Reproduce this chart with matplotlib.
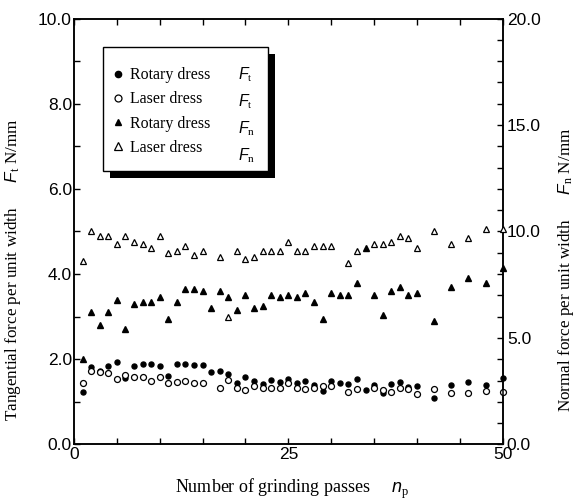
import matplotlib
matplotlib.use("Agg")
import matplotlib.pyplot as plt
from matplotlib.lines import Line2D
from matplotlib.patches import Rectangle
from matplotlib.ticker import MultipleLocator, FormatStrFormatter
from matplotlib.transforms import IdentityTransform

plt.rcParams['font.family'] = ['Liberation Sans', 'DejaVu Sans']
plt.rcParams['mathtext.fontset'] = 'custom'
plt.rcParams['mathtext.it'] = 'Liberation Sans:italic'
plt.rcParams['mathtext.rm'] = 'Liberation Serif'

# tangential force (N/mm) - left axis
passes_ft_rot = list(range(1, 41)) + [42, 44, 46, 48, 50]
ft_rotary = [1.24, 1.81, 1.72, 1.84, 1.94, 1.57, 1.84, 1.88, 1.88, 1.84,
             1.61, 1.88, 1.88, 1.87, 1.86, 1.71, 1.73, 1.66, 1.45, 1.59,
             1.50, 1.42, 1.52, 1.47, 1.53, 1.45, 1.48, 1.40, 1.26, 1.50,
             1.44, 1.42, 1.54, 1.28, 1.40, 1.20, 1.42, 1.46, 1.35, 1.36,
             1.08, 1.40, 1.47, 1.40, 1.55]

passes_ft_las = [1, 2, 3, 4, 5, 6, 7, 8, 9, 10, 11, 12, 13, 14, 15, 17, 18, 19, 20,
                 21, 22, 23, 24, 25, 26, 27, 28, 29, 30, 32, 33, 35, 36, 37, 38, 39, 40,
                 42, 44, 46, 48, 50]
ft_laser = [1.44, 1.73, 1.69, 1.67, 1.54, 1.63, 1.59, 1.59, 1.49, 1.59,
            1.44, 1.47, 1.49, 1.45, 1.44, 1.33, 1.51, 1.33, 1.28,
            1.38, 1.33, 1.33, 1.33, 1.43, 1.33, 1.30, 1.33, 1.36, 1.36, 1.22, 1.30,
            1.32, 1.28, 1.22, 1.33, 1.30, 1.18,
            1.30, 1.20, 1.20, 1.26, 1.22]

# normal force (N/mm) - right axis
passes_fn_rot = list(range(1, 41)) + [42, 44, 46, 48, 50]
fn_rotary = [4.0, 6.2, 5.6, 6.2, 6.8, 5.4, 6.6, 6.7, 6.7, 6.9,
             5.9, 6.7, 7.3, 7.3, 7.2, 6.4, 7.2, 6.9, 6.3, 7.0,
             6.4, 6.5, 7.0, 6.9, 7.0, 6.9, 7.1, 6.7, 5.9, 7.1,
             7.0, 7.0, 7.6, 9.2, 7.0, 6.1, 7.2, 7.4, 7.0, 7.1,
             5.8, 7.4, 7.8, 7.6, 8.3]

passes_fn_las = [1, 2, 3, 4, 5, 6, 7, 8, 9, 10, 11, 12, 13, 14, 15, 17, 18, 19, 20,
                 21, 22, 23, 24, 25, 26, 27, 28, 29, 30, 32, 33, 35, 36, 37, 38, 39, 40,
                 42, 44, 46, 48, 50]
fn_laser = [8.6, 10.0, 9.8, 9.8, 9.4, 9.8, 9.5, 9.4, 9.2, 9.8,
            9.0, 9.1, 9.3, 8.9, 9.1, 8.8, 6.0, 9.1, 8.7,
            8.8, 9.1, 9.1, 9.1, 9.5, 9.1, 9.1, 9.3, 9.3, 9.3, 8.5, 9.1,
            9.4, 9.4, 9.5, 9.8, 9.7, 9.2,
            10.0, 9.4, 9.7, 10.1, 10.1]

legend_labels = ['Rotary dress', 'Laser dress', 'Rotary dress', 'Laser dress']
legend_forces = [r'$F_{\mathrm{t}}$', r'$F_{\mathrm{t}}$', r'$F_{\mathrm{n}}$', r'$F_{\mathrm{n}}$']

fig = plt.figure(figsize=(5.76, 5.01), dpi=100)
ax = fig.add_axes([0.1285, 0.113, 0.7442, 0.850])
ax2 = ax.twinx()

serif = 'Liberation Serif'
tick_fs = 12.5

ax.plot(passes_ft_rot, ft_rotary, 'o', color='black', ms=3.6, clip_on=False, zorder=3)
ax.plot(passes_ft_las, ft_laser, 'o', mfc='white', mec='black', ms=4.3, mew=0.9,
        clip_on=False, zorder=3)
ax2.plot(passes_fn_rot, fn_rotary, '^', color='black', ms=4.0, clip_on=False, zorder=3)
ax2.plot(passes_fn_las, fn_laser, '^', mfc='white', mec='black', ms=4.6, mew=0.9,
         clip_on=False, zorder=3)

ax.set_xlim(0, 50)
ax.set_ylim(0, 10)
ax2.set_ylim(0, 20)

ax.xaxis.set_major_locator(MultipleLocator(25))
ax.xaxis.set_minor_locator(MultipleLocator(5))
ax.yaxis.set_major_locator(MultipleLocator(2))
ax.yaxis.set_minor_locator(MultipleLocator(1))
ax.yaxis.set_major_formatter(FormatStrFormatter('%.1f'))
ax2.yaxis.set_major_locator(MultipleLocator(5))
ax2.yaxis.set_minor_locator(MultipleLocator(1))
ax2.yaxis.set_major_formatter(FormatStrFormatter('%.1f'))

for a in (ax, ax2):
    for s in a.spines.values():
        s.set_linewidth(1.1)
    a.tick_params(which='both', direction='in', length=4.5, width=1.0,
                  labelsize=tick_fs)
ax.tick_params(axis='x', which='both', top=True, pad=2)
ax.tick_params(axis='y', which='both', right=False, pad=1.5)
ax2.tick_params(axis='y', which='both', pad=3)

ax.set_xlabel(r'Number of grinding passes     $n_{\mathrm{p}}$', family=serif, fontsize=13)
ax.xaxis.set_label_coords(0.51, -0.077)
ax.set_ylabel(r'Tangential force per unit width      $F_{\mathrm{t}}$ N/mm',
              family=serif, fontsize=12.3)
ax.yaxis.set_label_coords(-0.118, 0.41)
ax2.set_ylabel(r'Normal force per unit width      $F_{\mathrm{n}}$ N/mm',
               family=serif, fontsize=12.3, rotation=90)
ax2.yaxis.set_label_coords(1.125, 0.41)

handles = [
    Line2D([], [], ls='none', marker='o', color='black', ms=4.5),
    Line2D([], [], ls='none', marker='o', mfc='white', mec='black', ms=5, mew=0.9),
    Line2D([], [], ls='none', marker='^', color='black', ms=5),
    Line2D([], [], ls='none', marker='^', mfc='white', mec='black', ms=5.5, mew=0.9),
]
blank = [Line2D([], [], ls='none') for _ in range(4)]
leg = ax2.legend(handles + blank, legend_labels + legend_forces, ncol=2,
                 loc='upper left', bbox_to_anchor=(0.0683, 0.913), borderaxespad=0,
                 prop={'family': serif, 'size': 11.4}, handlelength=0.6,
                 handletextpad=0.5, columnspacing=0.65, labelspacing=0.52,
                 borderpad=0.6, frameon=False, numpoints=1)
leg.set_zorder(6)

# legend box (more room at top) and a black drop shadow
fig.canvas.draw()
bb = leg.get_window_extent()
x0, y0 = bb.x0, bb.y0 + 3
w, h = bb.width + 3, bb.height + 6
frame = Rectangle((x0, y0), w, h, transform=IdentityTransform(), facecolor='white',
                  edgecolor='black', linewidth=1.0, zorder=5.8, clip_on=False)
shadow = Rectangle((x0 + 7, y0 - 7), w, h, transform=IdentityTransform(),
                   facecolor='black', edgecolor='none', zorder=5.5, clip_on=False)
ax2.add_artist(shadow)
ax2.add_artist(frame)

fig.savefig('out.png', dpi=100)
